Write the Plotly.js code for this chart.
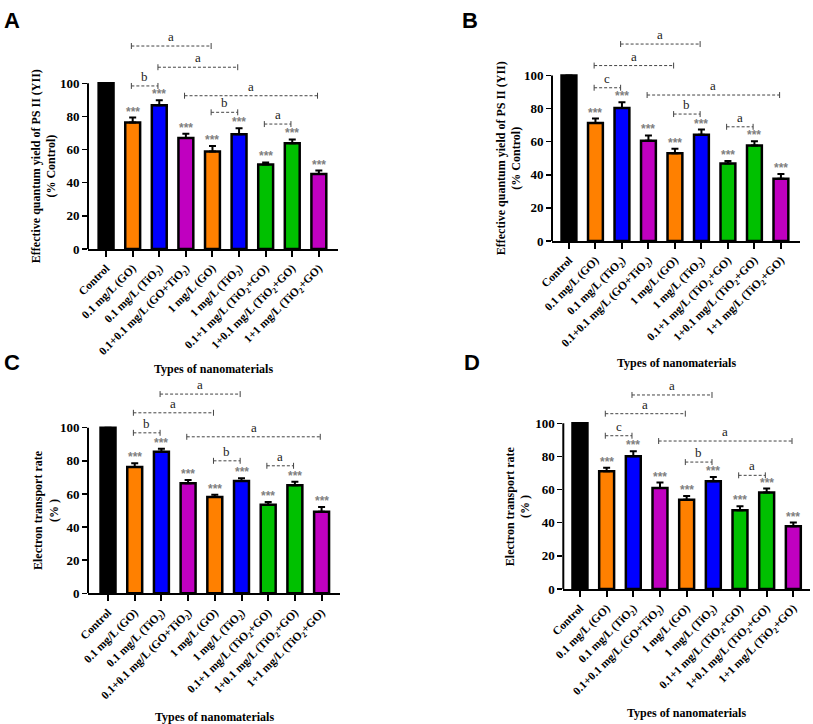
<!DOCTYPE html>
<html>
<head>
<meta charset="utf-8">
<script src="https://cdn.plot.ly/plotly-3.0.1.min.js"></script>
<style>html,body{margin:0;padding:0;background:#fff;}#chart{width:813px;height:724px;}</style>
</head>
<body>
<div id="chart"></div>
<script>
// ---------------- data ----------------
const categories = [
  'Control',
  '0.1 mg/L (GO)',
  '0.1 mg/L (TiO<sub>2</sub>)',
  '0.1+0.1 mg/L (GO+TiO<sub>2</sub>)',
  '1 mg/L (GO)',
  '1 mg/L (TiO<sub>2</sub>)',
  '0.1+1 mg/L (TiO<sub>2</sub>+GO)',
  '1+0.1 mg/L (TiO<sub>2</sub>+GO)',
  '1+1 mg/L (TiO<sub>2</sub>+GO)'
];
const barColors = ['#000000','#FF8000','#0000FF','#C000C0','#FF8000','#0000FF','#00C000','#00C000','#C000C0'];

const valuesA = [100, 76.3, 86.8, 67.0, 58.9, 69.2, 51.0, 63.8, 45.3];
const errorsA = [0, 3.0, 2.9, 2.6, 3.2, 3.6, 1.2, 2.3, 2.0];
const valuesB = [100, 71.3, 80.3, 60.6, 53.0, 64.2, 46.8, 57.7, 37.6];
const errorsB = [0, 2.7, 3.5, 3.2, 2.7, 3.1, 1.6, 2.5, 2.9];
const valuesC = [100, 76.2, 85.5, 66.4, 58.1, 67.8, 53.5, 65.2, 49.3];
const errorsC = [0, 2.4, 1.8, 2.0, 1.4, 1.6, 1.6, 2.2, 2.8];
const valuesD = [100, 71.0, 80.1, 60.9, 53.9, 65.0, 47.5, 58.2, 37.8];
const errorsD = [0, 2.2, 3.0, 3.3, 2.2, 2.6, 2.4, 2.4, 2.3];

// significance brackets: [from bar, to bar, height (% units), letter]
const bracketsA = [[1,4,122.5,'a'],[2,5,109.7,'a'],[1,2,98.4,'b'],[3,8,92.5,'a'],[4,5,82.5,'b'],[6,7,75.4,'a']];
const bracketsB = [[2,5,119.0,'a'],[1,4,106.0,'a'],[1,2,92.6,'c'],[3,8,88.2,'a'],[4,5,76.7,'b'],[6,7,69.0,'a']];
const bracketsC = [[2,5,120.3,'a'],[1,4,109.0,'a'],[1,2,96.9,'b'],[3,8,94.5,'a'],[4,5,80.0,'b'],[6,7,77.0,'a']];
const bracketsD = [[2,5,117.1,'a'],[1,4,105.8,'a'],[1,2,92.5,'c'],[3,8,89.3,'a'],[4,5,76.6,'b'],[6,7,68.6,'a']];

const yTitleTop = 'Effective quantum yield of PS II (YII)<br>(% Control)';
const yTitleBottom = 'Electron transport rate<br>(% )';
const xTitle = 'Types of nanomaterials';
const yTicks = [0, 20, 40, 60, 80, 100];

// ---------------- layout helpers ----------------
const W = 813, H = 724;
const px = v => v / W;
const py = v => 1 - v / H;
const SERIF = '"Liberation Serif", "Times New Roman", serif';
const SANS = '"Liberation Sans", Arial, sans-serif';

// panel geometry in pixels: x axis extent, zero line y, pixels per % unit, x range
const panels = [
  {key:'', letter:'A', vals:valuesA, errs:errorsA, br:bracketsA, yt:yTitleTop,
   x0:88, x1:338, xr:[-0.68, 8.72], zeroY:249, ppu:1.657, yTitleX:44, xTitleY:369, letterX:2, letterY:20},
  {key:'2', letter:'B', vals:valuesB, errs:errorsB, br:bracketsB, yt:yTitleTop,
   x0:552, x1:800, xr:[-0.64, 8.72], zeroY:241, ppu:1.655, yTitleX:509, xTitleY:363, letterX:460, letterY:20},
  {key:'3', letter:'C', vals:valuesC, errs:errorsC, br:bracketsC, yt:yTitleBottom,
   x0:88, x1:340, xr:[-0.75, 8.69], zeroY:593.3, ppu:1.656, yTitleX:45.5, xTitleY:717, letterX:2, letterY:362},
  {key:'4', letter:'D', vals:valuesD, errs:errorsD, br:bracketsD, yt:yTitleBottom,
   x0:563.3, x1:810, xr:[-0.625, 8.625], zeroY:589, ppu:1.657, yTitleX:518, xTitleY:713, letterX:462, letterY:362}
];
const YMAX = 130;

const data = [];
const layout = {
  width: W, height: H,
  margin: {l:0, r:0, t:0, b:0},
  paper_bgcolor: '#ffffff', plot_bgcolor: 'rgba(0,0,0,0)',
  showlegend: false,
  bargap: 0,
  shapes: [],
  annotations: []
};

const idx = categories.map((_, i) => i);
const boldText = arr => arr.map(t => '<b>' + t + '</b>');

panels.forEach(p => {
  const xa = 'x' + p.key, ya = 'y' + p.key;
  const xName = 'xaxis' + p.key, yName = 'yaxis' + p.key;
  const yDom = [py(p.zeroY), py(p.zeroY - YMAX * p.ppu)];
  const xDom = [px(p.x0), px(p.x1)];

  data.push({
    type: 'bar', x: idx, y: p.vals, xaxis: xa, yaxis: ya,
    width: 0.56,
    marker: {color: barColors, line: {color: '#000000', width: 2.5}},
    error_y: {type: 'data', symmetric: false, array: p.errs, arrayminus: p.errs.map(() => 0),
              color: '#000000', thickness: 2, width: 3.5},
    hoverinfo: 'skip'
  });

  layout[xName] = {
    domain: xDom, range: p.xr, anchor: ya,
    tickmode: 'array', tickvals: idx, ticktext: boldText(categories), tickangle: -45,
    showline: true, linecolor: '#000', linewidth: 2,
    ticks: 'outside', ticklen: 6, tickwidth: 2, tickcolor: '#000',
    showgrid: false, zeroline: false,
    tickfont: {family: SERIF, size: 11.5, color: '#000'}
  };
  layout[yName] = {
    domain: yDom, range: [0, YMAX], anchor: xa,
    tickmode: 'array', tickvals: yTicks, ticktext: boldText(yTicks.map(String)),
    showline: false, ticks: 'outside', ticklen: 5, tickwidth: 1.5, tickcolor: '#000',
    showgrid: false, zeroline: false,
    tickfont: {family: SERIF, size: 13, color: '#000'}
  };

  // y axis line only spanning 0..100
  layout.shapes.push({type: 'line', xref: 'paper', yref: ya, x0: xDom[0], x1: xDom[0], y0: 0, y1: 100,
                      line: {color: '#000', width: 2}});

  // significance stars
  p.vals.forEach((v, i) => {
    if (i === 0) return;
    layout.annotations.push({xref: xa, yref: ya, x: i, y: v + p.errs[i], text: '<b>***</b>', showarrow: false,
      yanchor: 'bottom', yshift: -3, font: {family: SANS, size: 12, color: '#808080'}});
  });

  // brackets
  p.br.forEach(b => {
    const [i, j, h, lab] = b;
    const lineStyle = {color: '#444', width: 1, dash: '3px,2px'};
    layout.shapes.push({type: 'line', xref: xa, yref: ya, x0: i - 0.05, x1: j - 0.05, y0: h, y1: h, line: lineStyle});
    layout.shapes.push({type: 'line', xref: xa, yref: ya, x0: i - 0.05, x1: i - 0.05, y0: h - 1.8, y1: h + 1.8, line: {color: '#444', width: 1}});
    layout.shapes.push({type: 'line', xref: xa, yref: ya, x0: j - 0.05, x1: j - 0.05, y0: h - 1.8, y1: h + 1.8, line: {color: '#444', width: 1}});
    layout.annotations.push({xref: xa, yref: ya, x: (i + j) / 2 - 0.05, y: h, text: lab, showarrow: false,
      yanchor: 'bottom', yshift: 0, font: {family: SERIF, size: 13, color: '#222'}});
  });

  // y title (centered on 0..100)
  layout.annotations.push({xref: 'paper', yref: 'paper', x: px(p.yTitleX), y: py(p.zeroY - 50 * p.ppu),
    text: '<b>' + p.yt.replace('<br>', '</b><br><b>') + '</b>', textangle: -90, showarrow: false,
    xanchor: 'center', yanchor: 'middle',
    font: {family: SERIF, size: 12, color: '#000'}});
  // x title
  layout.annotations.push({xref: 'paper', yref: 'paper', x: (xDom[0] + xDom[1]) / 2, y: py(p.xTitleY),
    text: '<b>' + xTitle + '</b>', showarrow: false, xanchor: 'center', yanchor: 'middle',
    font: {family: SERIF, size: 12, color: '#000'}});
  // panel letter
  layout.annotations.push({xref: 'paper', yref: 'paper', x: px(p.letterX), y: py(p.letterY),
    text: '<b>' + p.letter + '</b>', showarrow: false, xanchor: 'left', yanchor: 'middle',
    font: {family: SANS, size: 22, color: '#000'}});
});

Plotly.newPlot('chart', data, layout, {staticPlot: true, displayModeBar: false});
</script>
</body>
</html>
